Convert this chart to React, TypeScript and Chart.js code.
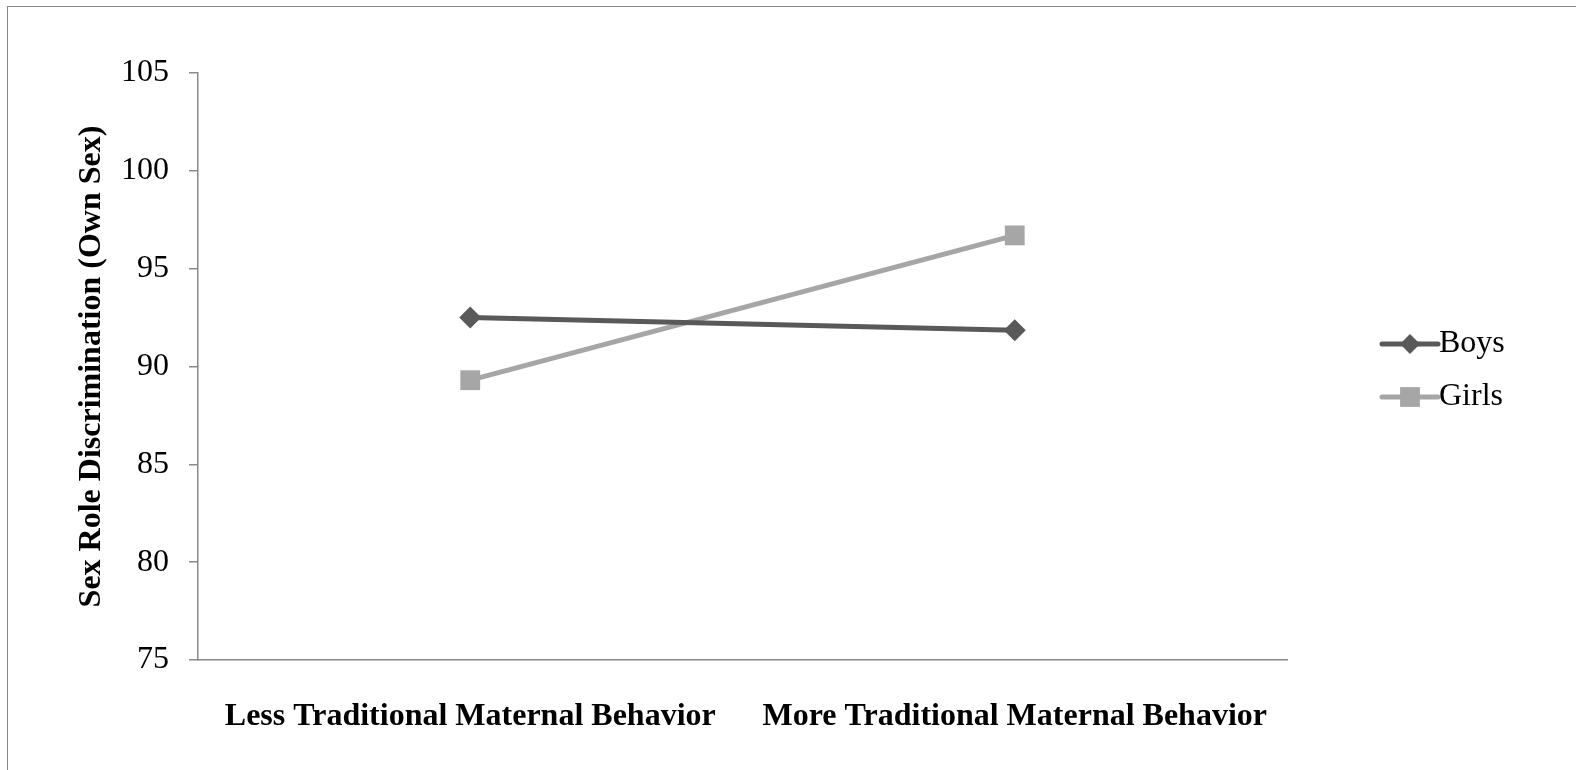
import React, { useEffect, useRef } from "react";
import { Chart, registerables } from "chart.js";

Chart.register(...registerables);

const categories = ["Less Traditional Maternal Behavior", "More Traditional Maternal Behavior"];
const seriesNames = ["Boys", "Girls"];
const boysValues = [92.5, 91.85];
const girlsValues = [89.3, 96.7];
const yTitle = "Sex Role Discrimination (Own Sex)";

const FONT = '"Liberation Serif", "Times New Roman", serif';
const BOYS_COLOR = "#595959";
const GIRLS_COLOR = "#A6A6A6";
const AXIS_COLOR = "#8a8a8a";

function drawMarker(ctx: CanvasRenderingContext2D, style: string, x: number, y: number, r: number, color: string) {
  ctx.save();
  ctx.fillStyle = color;
  ctx.beginPath();
  if (style === "rectRot") {
    ctx.moveTo(x, y - r);
    ctx.lineTo(x + r, y);
    ctx.lineTo(x, y + r);
    ctx.lineTo(x - r, y);
    ctx.closePath();
  } else {
    const s = r * Math.SQRT1_2;
    ctx.rect(x - s, y - s, 2 * s, 2 * s);
  }
  ctx.fill();
  ctx.restore();
}

const legendPlugin = {
  id: "customLegend",
  afterDraw(chart: any) {
    const ctx: CanvasRenderingContext2D = chart.ctx;
    const area = chart.chartArea;
    const x0 = area.right + 95;
    const ys = [344, 397];
    chart.data.datasets.forEach((ds: any, i: number) => {
      const y = ys[i];
      ctx.save();
      ctx.strokeStyle = ds.borderColor;
      ctx.lineWidth = 5;
      ctx.lineCap = "round";
      ctx.beginPath();
      ctx.moveTo(x0, y);
      ctx.lineTo(x0 + 56, y);
      ctx.stroke();
      drawMarker(ctx, ds.pointStyle, x0 + 28, y, ds.pointStyle === "rectRot" ? 10 : 14, ds.pointBackgroundColor);
      ctx.fillStyle = "#000";
      ctx.font = `32px ${FONT}`;
      ctx.textBaseline = "middle";
      ctx.textAlign = "left";
      ctx.fillText(ds.label, x0 + 57, y);
      ctx.restore();
    });
  },
};

export default function App() {
  const canvasRef = useRef<HTMLCanvasElement | null>(null);

  useEffect(() => {
    if (!canvasRef.current) return;
    const chart = new Chart(canvasRef.current, {
      type: "line",
      data: {
        labels: categories,
        datasets: [
          {
            label: seriesNames[0],
            data: boysValues,
            borderColor: BOYS_COLOR,
            backgroundColor: BOYS_COLOR,
            pointBackgroundColor: BOYS_COLOR,
            pointBorderColor: BOYS_COLOR,
            pointBorderWidth: 0,
            pointStyle: "rectRot",
            pointRadius: 11,
            borderWidth: 5,
            tension: 0,
          },
          {
            label: seriesNames[1],
            data: girlsValues,
            borderColor: GIRLS_COLOR,
            backgroundColor: GIRLS_COLOR,
            pointBackgroundColor: GIRLS_COLOR,
            pointBorderColor: GIRLS_COLOR,
            pointBorderWidth: 0,
            pointStyle: "rect",
            pointRadius: 14,
            borderWidth: 5,
            tension: 0,
          },
        ],
      } as any,
      options: {
        animation: false,
        responsive: true,
        maintainAspectRatio: false,
        layout: { padding: { top: 73, right: 289, left: 0, bottom: 0 } },
        plugins: {
          legend: { display: false },
          tooltip: { enabled: false },
        },
        scales: {
          x: {
            offset: true,
            grid: { display: false, drawTicks: false, tickLength: 0 },
            border: { display: true, color: AXIS_COLOR, width: 1.5 },
            ticks: {
              color: "#000",
              padding: 38,
              maxRotation: 0,
              autoSkip: false,
              font: { family: FONT, size: 32, weight: "bold" },
            },
            afterFit: (scale: any) => {
              scale.height = 110;
            },
          },
          y: {
            min: 75,
            max: 105,
            ticks: {
              stepSize: 5,
              color: "#000",
              padding: 20,
              font: { family: FONT, size: 32 },
            },
            grid: {
              drawOnChartArea: false,
              drawTicks: true,
              tickLength: 9,
              color: AXIS_COLOR,
              lineWidth: 1.5,
            },
            border: { display: true, color: AXIS_COLOR, width: 1.5 },
            title: {
              display: true,
              text: yTitle,
              color: "#000",
              font: { family: FONT, size: 32, weight: "bold" },
              padding: { top: 73, bottom: 0 },
            },
            afterFit: (scale: any) => {
              scale.width = 198;
            },
          },
        },
      } as any,
      plugins: [legendPlugin],
    });
    return () => chart.destroy();
  }, []);

  return (
    <>
      <div
        style={{
          position: "absolute",
          left: 0,
          top: 0,
          width: 1576,
          height: 770,
          background: "#fff",
          overflow: "hidden",
        }}
      >
        <canvas ref={canvasRef} />
        <div
          style={{
            position: "absolute",
            left: 7,
            top: 6,
            width: 1569,
            height: 764,
            boxSizing: "border-box",
            borderTop: "1px solid #888",
            borderLeft: "1px solid #888",
            pointerEvents: "none",
          }}
        />
      </div>
    </>
  );
}
